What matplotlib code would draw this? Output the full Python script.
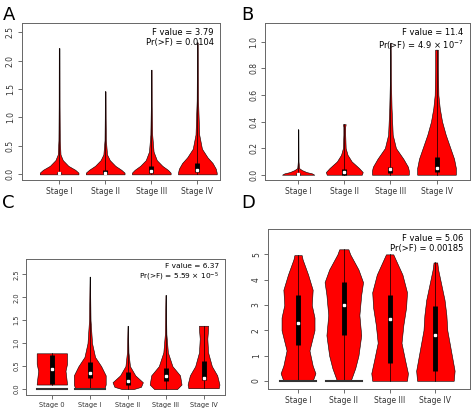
import matplotlib.pyplot as plt
import numpy as np

# violin outlines: y levels and half-widths (in category units)
stages4 = ['Stage I', 'Stage II', 'Stage III', 'Stage IV']
stages5 = ['Stage 0', 'Stage I', 'Stage II', 'Stage III', 'Stage IV']

a_y = [[0, 0.03, 0.08, 0.15, 0.25, 0.35, 0.6, 1.2, 2.22],
       [0, 0.03, 0.08, 0.15, 0.25, 0.35, 0.6, 1.0, 1.46],
       [0, 0.03, 0.08, 0.15, 0.25, 0.4, 0.7, 1.2, 1.84],
       [0, 0.03, 0.1, 0.2, 0.3, 0.45, 0.7, 1.3, 2.32]]
a_w = [[0.42, 0.42, 0.35, 0.2, 0.08, 0.03, 0.015, 0.01, 0.008],
       [0.42, 0.42, 0.35, 0.22, 0.1, 0.04, 0.015, 0.01, 0.008],
       [0.42, 0.42, 0.36, 0.24, 0.12, 0.05, 0.02, 0.01, 0.008],
       [0.42, 0.42, 0.4, 0.33, 0.22, 0.1, 0.04, 0.015, 0.008]]
a_box = [(0.0, 0.02, 0.05), (0.0, 0.03, 0.08), (0.02, 0.06, 0.15), (0.04, 0.08, 0.2)]

b_y = [[0, 0.01, 0.02, 0.035, 0.05, 0.1, 0.34],
       [0, 0.02, 0.05, 0.1, 0.15, 0.2, 0.3, 0.36, 0.38],
       [0, 0.03, 0.06, 0.12, 0.2, 0.3, 0.5, 0.7, 0.99],
       [0, 0.05, 0.12, 0.2, 0.3, 0.4, 0.5, 0.6, 0.8, 0.93, 0.94]]
b_w = [[0.35, 0.3, 0.18, 0.08, 0.02, 0.008, 0.005],
       [0.38, 0.4, 0.32, 0.16, 0.07, 0.03, 0.02, 0.02, 0.03],
       [0.4, 0.4, 0.38, 0.28, 0.12, 0.05, 0.025, 0.012, 0.006],
       [0.42, 0.42, 0.38, 0.3, 0.2, 0.12, 0.07, 0.04, 0.03, 0.03, 0.03]]
b_box = [(0.0, 0.005, 0.01), (0.0, 0.02, 0.04), (0.01, 0.04, 0.06), (0.02, 0.05, 0.13)]

c_y = [[0.1, 0.12, 0.4, 0.55, 0.75, 0.78],
       [0, 0.1, 0.3, 0.5, 0.7, 1.0, 1.5, 2.45],
       [0, 0.05, 0.15, 0.3, 0.5, 0.8, 1.38],
       [0, 0.1, 0.3, 0.5, 0.8, 1.2, 2.05],
       [0.02, 0.1, 0.3, 0.5, 0.8, 1.1, 1.3, 1.38]]
c_w = [[0.4, 0.4, 0.36, 0.4, 0.4, 0.4],
       [0.38, 0.42, 0.42, 0.3, 0.14, 0.06, 0.02, 0.005],
       [0.15, 0.35, 0.4, 0.2, 0.06, 0.02, 0.005],
       [0.3, 0.42, 0.38, 0.18, 0.06, 0.02, 0.005],
       [0.4, 0.42, 0.36, 0.22, 0.12, 0.1, 0.12, 0.12]]
c_box = [(0.12, 0.43, 0.75), (0.25, 0.35, 0.6), (0.1, 0.18, 0.37), (0.18, 0.28, 0.47), (0.2, 0.25, 0.62)]
c_zero = [True, True, False, False, False]

d_y = [[0, 0.3, 0.6, 1.2, 2.0, 2.5, 3.0, 3.6, 4.2, 4.8, 4.97],
       [0, 0.5, 1.0, 1.8, 2.6, 3.4, 3.9, 4.4, 5.0, 5.2],
       [0, 0.3, 0.8, 1.5, 2.2, 2.9, 3.5, 4.2, 4.8, 5.0],
       [0, 0.4, 0.8, 1.4, 2.0, 2.6, 3.2, 3.8, 4.4, 4.68]]
d_w = [[0.32, 0.38, 0.32, 0.25, 0.36, 0.36, 0.3, 0.32, 0.22, 0.1, 0.08],
       [0.15, 0.25, 0.32, 0.38, 0.34, 0.38, 0.42, 0.32, 0.14, 0.1],
       [0.38, 0.4, 0.34, 0.26, 0.3, 0.36, 0.38, 0.28, 0.13, 0.08],
       [0.4, 0.42, 0.38, 0.32, 0.26, 0.24, 0.2, 0.13, 0.06, 0.04]]
d_box = [(1.4, 2.3, 3.4), (1.8, 3.0, 3.9), (0.7, 2.45, 3.4), (0.4, 1.8, 2.95)]
d_zero = [True, True, False, False]

stats = {'A': ('F value = 3.79', 'Pr(>F) = 0.0104'),
         'B': ('F value = 11.4', 'Pr(>F) = 4.9 × 10$^{-7}$'),
         'C': ('F value = 6.37', 'Pr(>F) = 5.59 × 10$^{-5}$'),
         'D': ('F value = 5.06', 'Pr(>F) = 0.00185')}


def violin(ax, x, ys, ws, box, zero_line=False):
    ys = np.array(ys)
    ws = np.array(ws)
    ax.fill_betweenx(ys, x - ws, x + ws, color='red', ec='black', lw=0.4, zorder=2)
    ax.plot([x, x], [ys[0], ys[-1]], color='black', lw=0.5, zorder=3)
    q1, med, q3 = box
    ax.plot([x, x], [q1, q3], color='black', lw=3.5, solid_capstyle='butt', zorder=4)
    ax.plot(x, med, 's', color='white', ms=1.8, zorder=5)
    if zero_line:
        ax.plot([x - 0.4, x + 0.4], [0, 0], color='#333333', lw=1.5, zorder=3)


def panel(rect, letter, labels, ys, ws, boxes, ylim, xlim, ticks, zeros=None, fs=5.5):
    ax = fig.add_axes(rect)
    for i in range(len(labels)):
        violin(ax, i + 1, ys[i], ws[i], boxes[i], zeros[i] if zeros else False)
    ax.set_xlim(*xlim)
    ax.set_ylim(*ylim)
    ax.set_xticks(range(1, len(labels) + 1))
    ax.set_xticklabels(labels, fontsize=fs)
    ax.set_yticks(ticks)
    ax.set_yticklabels([f'{t:g}' if t != int(t) or letter == 'D' else f'{t:.1f}' for t in ticks],
                       fontsize=fs, rotation=90, va='center')
    ax.tick_params(length=3, width=0.5, colors='#333333', pad=2)
    for s in ax.spines.values():
        s.set_color('#666666')
        s.set_linewidth(0.7)
    f1, f2 = stats[letter]
    ax.text(0.97, 0.97, f1 + '\n' + f2, transform=ax.transAxes, ha='right', va='top',
            fontsize=fs + 0.5, linespacing=1.2)
    return ax


fig = plt.figure(figsize=(4.74, 4.12), dpi=100)
panel([0.046, 0.563, 0.418, 0.381], 'A', stages4, a_y, a_w, a_box, (-0.1, 2.66), (0.19, 4.49),
      [0, 0.5, 1.0, 1.5, 2.0, 2.5])
panel([0.559, 0.563, 0.432, 0.381], 'B', stages4, b_y, b_w, b_box, (-0.04, 1.14), (0.28, 4.72),
      [0, 0.2, 0.4, 0.6, 0.8, 1.0])
panel([0.055, 0.041, 0.42, 0.33], 'C', stages5, c_y, c_w, c_box, (-0.13, 2.83), (0.32, 5.57),
      [0, 0.5, 1.0, 1.5, 2.0, 2.5], c_zero, fs=4.8)
panel([0.565, 0.056, 0.426, 0.388], 'D', stages4, d_y, d_w, d_box, (-0.32, 6.0), (0.34, 4.75),
      [0, 1, 2, 3, 4, 5], d_zero)

for letter, x, y in [('A', 0.005, 0.985), ('B', 0.51, 0.985), ('C', 0.005, 0.53), ('D', 0.51, 0.53)]:
    fig.text(x, y, letter, fontsize=13, va='top')

fig.savefig('out.png', dpi=100)
